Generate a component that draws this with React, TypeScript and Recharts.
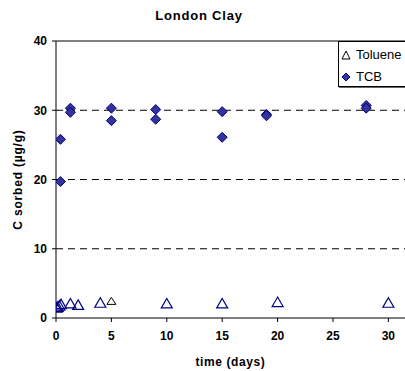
import { ScatterChart, Scatter, XAxis, YAxis, CartesianGrid, ReferenceLine } from "recharts";

// TCB sorbed (diamonds)
const tcbDays = [0.4, 0.4, 1.3, 1.3, 5, 5, 9, 9, 15, 15, 19, 19, 28, 28];
const tcbValues = [25.8, 19.7, 30.3, 29.7, 30.3, 28.5, 30.1, 28.7, 29.8, 26.1, 29.4, 29.2, 30.7, 30.3];

// Toluene sorbed (triangles)
const tolDays = [0.05, 0.15, 0.3, 0.45, 1.3, 2, 4, 10, 15, 20, 30];
const tolValues = [1.5, 1.6, 1.8, 2.0, 2.1, 1.9, 2.2, 2.1, 2.1, 2.3, 2.2];

// single black triangle at day 5
const extraDays = [5];
const extraValues = [2.4];

const xTicks = [0, 5, 10, 15, 20, 25, 30];
const yTicks = [0, 10, 20, 30, 40];

const toPoints = (xs: number[], ys: number[]) => xs.map((x, i) => ({ x, y: ys[i] }));

const tcbData = toPoints(tcbDays, tcbValues);
const tolData = toPoints(tolDays, tolValues);
const extraData = toPoints(extraDays, extraValues);

const font = "'Liberation Sans', Arial, sans-serif";
const tickStyle = { fill: "#000", fontSize: 12, fontWeight: "bold", fontFamily: font };

const Diamond = (p: any) => (
  <polygon
    points={`${p.cx},${p.cy - 5} ${p.cx + 5},${p.cy} ${p.cx},${p.cy + 5} ${p.cx - 5},${p.cy}`}
    fill="#333399"
    stroke="#000080"
    strokeWidth={1}
  />
);

const Triangle = (p: any) => (
  <polygon
    points={`${p.cx},${p.cy - 5} ${p.cx + 5.5},${p.cy + 4.5} ${p.cx - 5.5},${p.cy + 4.5}`}
    fill="none"
    stroke="#000080"
    strokeWidth={1.2}
  />
);

const SmallTriangle = (p: any) => (
  <polygon
    points={`${p.cx},${p.cy - 4} ${p.cx + 4.5},${p.cy + 3} ${p.cx - 4.5},${p.cy + 3}`}
    fill="none"
    stroke="#000"
    strokeWidth={1}
  />
);

export default function App() {
  return (
    <div style={{ position: "absolute", left: 0, top: 0, width: 405, height: 371, background: "#fff", fontFamily: font, overflow: "hidden" }}>
      <div style={{ position: "absolute", left: 0, top: 8, width: 398, textAlign: "center", fontSize: 13, fontWeight: "bold", letterSpacing: 0.8 }}>
        London Clay
      </div>
      <ScatterChart width={405} height={371} margin={{ top: 41, right: 0, left: 0, bottom: 0 }}>
        <CartesianGrid vertical={false} stroke="#000" strokeDasharray="7 5" horizontalValues={[10, 20, 30]} />
        <ReferenceLine y={40} stroke="#000" strokeWidth={1} />
        <XAxis
          type="number"
          dataKey="x"
          domain={[0, 31.5]}
          ticks={xTicks}
          allowDataOverflow
          height={53}
          stroke="#000"
          tickSize={4}
          tickMargin={9}
          tick={tickStyle}
          label={{ value: "time (days)", position: "insideBottom", offset: 5, fill: "#000", fontSize: 12, fontWeight: "bold", fontFamily: font, letterSpacing: 0.6 }}
        />
        <YAxis
          type="number"
          dataKey="y"
          domain={[0, 40]}
          ticks={yTicks}
          width={56}
          stroke="#000"
          tickSize={4}
          tickMargin={5}
          tick={tickStyle}
          label={{ value: "C sorbed (µg/g)", angle: -90, position: "insideLeft", offset: 18, style: { textAnchor: "middle", letterSpacing: 0.8 }, fill: "#000", fontSize: 12, fontWeight: "bold", fontFamily: font }}
        />
        <Scatter data={tolData} shape={Triangle} isAnimationActive={false} />
        <Scatter data={extraData} shape={SmallTriangle} isAnimationActive={false} />
        <Scatter data={tcbData} shape={Diamond} isAnimationActive={false} />
      </ScatterChart>
      <div
        style={{
          position: "absolute",
          left: 338,
          top: 41,
          width: 80,
          height: 46,
          border: "1px solid #000",
          boxShadow: "1px 1px 0 #666",
          background: "#fff",
          fontSize: 13,
          lineHeight: "22px",
          paddingTop: 2,
          boxSizing: "border-box",
          whiteSpace: "nowrap",
        }}
      >
        <div style={{ display: "flex", alignItems: "center" }}>
          <svg width={17} height={12}>
            <polygon points="7,2 11,10 3,10" fill="none" stroke="#000" strokeWidth={1} />
          </svg>
          <span>Toluene</span>
        </div>
        <div style={{ display: "flex", alignItems: "center" }}>
          <svg width={17} height={12}>
            <polygon points="7,2 11,6 7,10 3,6" fill="#333399" stroke="#000080" strokeWidth={1} />
          </svg>
          <span>TCB</span>
        </div>
      </div>
    </div>
  );
}
